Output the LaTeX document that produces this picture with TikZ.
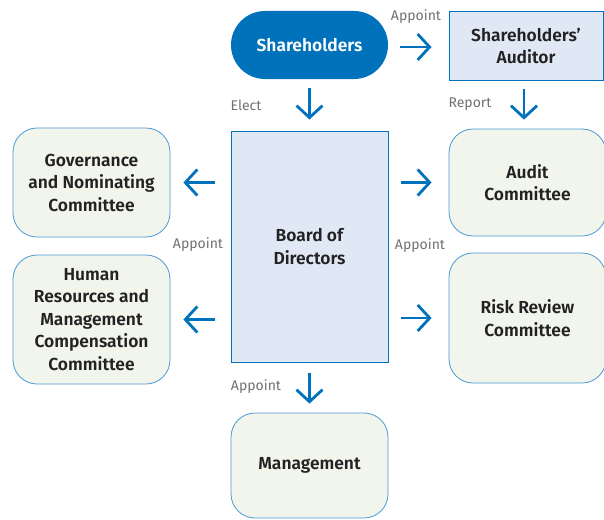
\documentclass[tikz,border=0pt]{standalone}
\usepackage{fontspec}
\setmainfont{Fira Sans}[BoldFont={Fira Sans SemiBold}]
\usetikzlibrary{arrows.meta}
\definecolor{bmoblue}{HTML}{0072BC}
\definecolor{boxline}{HTML}{4A9AD6}
\definecolor{boardfill}{HTML}{E1E8F5}
\definecolor{commfill}{HTML}{F1F5EC}
\definecolor{txt}{HTML}{222222}
\definecolor{lblgray}{HTML}{707070}
\begin{document}
\begin{tikzpicture}[x=1pt,y=-1pt,
	base/.style={align=center,inner sep=0pt,text=txt,font=\fontsize{17.4}{22.5}\selectfont\bfseries},
	pill/.style={base,fill=bmoblue,text=white,rounded corners=34pt,minimum width=157pt,minimum height=68pt},
	plain/.style={base,draw=bmoblue,line width=1pt,fill=boardfill},
	comm/.style={base,draw=boxline,line width=0.8pt,fill=commfill,rounded corners=24pt},
	lbl/.style={text=lblgray,font=\fontsize{14}{16}\selectfont,inner sep=0pt},
	arr/.style={draw=bmoblue,line width=2.8pt,-{Straight Barb[length=12pt,width=26pt]}}]
	\useasboundingbox (0,0) rectangle (604,519);
	\clip (0,0) rectangle (604,519);
	% top row
	\node[pill] (sh) at (309.5,45) {Shareholders};
	\node[plain,minimum width=154pt,minimum height=68pt] (aud) at (526,46) {Shareholders’\\Auditor};
	% middle
	\node[plain,minimum width=157pt,minimum height=231pt] (board) at (309.5,246.5) {Board of\\Directors};
	\node[comm,minimum width=157pt,minimum height=109pt] (gov) at (91.5,182.5) {Governance\\and Nominating\\Committee};
	\node[comm,minimum width=157pt,minimum height=129pt] (hr) at (91.5,319.5) {Human\\Resources and\\Management\\Compensation\\Committee};
	\node[comm,minimum width=157pt,minimum height=107pt] (audc) at (527.5,182.5) {Audit\\Committee};
	\node[comm,minimum width=157pt,minimum height=130pt] (risk) at (527.5,318) {Risk Review\\Committee};
	\node[comm,minimum width=157pt,minimum height=105pt] (mgmt) at (309.5,465.5) {Management};
	% arrows
	\draw[arr,shorten <=12pt,shorten >=17pt] (sh.east |- 0,47) -- (aud.west |- 0,47);
	\draw[arr,shorten <=9pt,shorten >=11pt] (sh) -- (board);
	\draw[arr,shorten <=8pt,shorten >=9pt] (aud.south -| 524,0) -- (audc.north -| 524,0);
	\draw[arr,shorten <=16pt,shorten >=13pt] (board.west |- gov) -- (gov.east);
	\draw[arr,shorten <=16pt,shorten >=13pt] (board.west |- hr) -- (hr.east);
	\draw[arr,shorten <=12pt,shorten >=17pt] (board.east |- audc) -- (audc.west);
	\draw[arr,shorten <=12pt,shorten >=17pt] (board.east |- risk) -- (risk.west);
	\draw[arr,shorten <=10pt,shorten >=9pt] (board) -- (mgmt);
	% labels
	\node[lbl] (l1) at (416,17) {Appoint};
	\node[lbl] (l2) at (246,105) {Elect};
	\node[lbl] (l3) at (470,104) {Report};
	\node[lbl] (l4) at (198,245) {Appoint};
	\node[lbl] (l5) at (420,246) {Appoint};
	\node[lbl] (l6) at (256,387) {Appoint};
\end{tikzpicture}
\end{document}
